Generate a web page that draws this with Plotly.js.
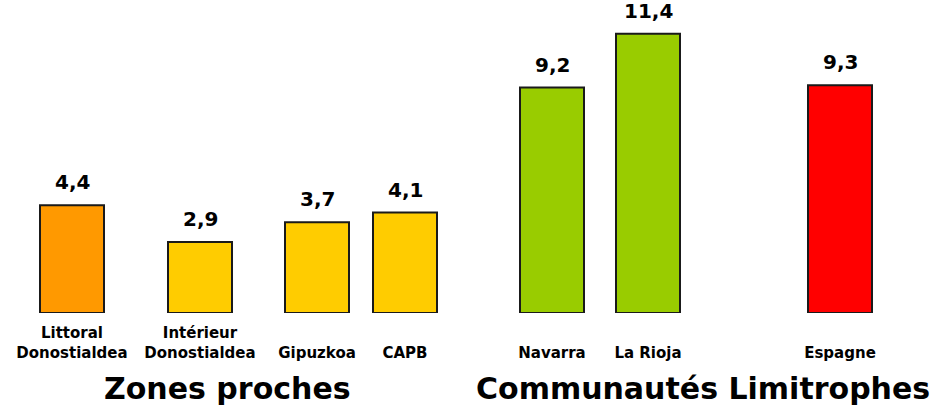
<!DOCTYPE html>
<html><head><meta charset="utf-8">
<script src="https://cdn.plot.ly/plotly-3.0.1.min.js"></script>
<style>html,body{margin:0;padding:0;background:#fff}#chart{width:944px;height:405px}</style>
</head><body><div id="chart"></div>
<script>
// Data
const categories = ["Littoral<br>Donostialdea", "Intérieur<br>Donostialdea", " <br>Gipuzkoa", " <br>CAPB", " <br>Navarra", " <br>La Rioja", " <br>Espagne"];
const values = [4.4, 2.9, 3.7, 4.1, 9.2, 11.4, 9.3];
const valueLabels = ["4,4", "2,9", "3,7", "4,1", "9,2", "11,4", "9,3"];
const groupTitles = ["Zones proches", "Communautés Limitrophes"];

// Layout (positions / styles)
const xPos = [72, 200, 317, 405, 552, 648, 840];
const groupPos = [227, 703];
const colors = ["#FF9900", "#FFCC00", "#FFCC00", "#FFCC00", "#99CC00", "#99CC00", "#FF0000"];
const FONT = "DejaVu Sans, Verdana, sans-serif";

const trace = {
  type: "bar",
  x: xPos,
  y: values,
  width: 64,
  marker: {color: colors, line: {color: "#1a1a1a", width: 2}},
  hoverinfo: "skip"
};

const H = 405, mt = 20, mb = 92;
const annotations = values.map((v, i) => ({
  x: xPos[i], y: v, xref: "x", yref: "y",
  text: "<b>" + valueLabels[i] + "</b>",
  showarrow: false, yanchor: "middle", yshift: 23,
  font: {family: FONT, size: 20, color: "#000"}
}));
groupTitles.forEach((t, i) => annotations.push({
  x: groupPos[i], y: (H - mb - 388) / (H - mt - mb), xref: "x", yref: "paper",
  text: "<b>" + t + "</b>", showarrow: false, yanchor: "middle",
  font: {family: FONT, size: 30, color: "#000"}
}));

const layout = {
  width: 944, height: 405,
  margin: {l: 0, r: 0, t: mt, b: mb, pad: 0},
  paper_bgcolor: "#fff", plot_bgcolor: "#fff",
  showlegend: false,
  xaxis: {range: [0, 944], tickvals: xPos, ticktext: categories.map(c => "<b>" + c.replace("<br>", "</b><br><b>") + "</b>"),
          showgrid: false, zeroline: false, showline: false, ticks: "",
          ticklabelstandoff: 9,
          tickfont: {family: FONT, size: 15, color: "#000"}, fixedrange: true},
  yaxis: {range: [0, 11.96], visible: false, fixedrange: true},
  annotations: annotations
};

Plotly.newPlot("chart", [trace], layout, {displayModeBar: false, staticPlot: true});
</script></body></html>
